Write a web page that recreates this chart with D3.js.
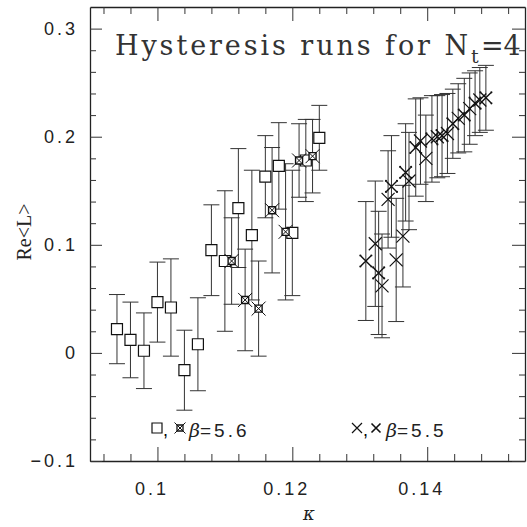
<!DOCTYPE html>
<html>
<head>
<meta charset="utf-8">
<script src="https://cdn.jsdelivr.net/npm/d3@7/dist/d3.min.js"></script>
<style>
body{margin:0;background:#fff}
svg{display:block}
.axis .domain{stroke:#222;stroke-width:1.3}
.axis line{stroke:#333;stroke-width:1}
.axis text{font-family:"Liberation Sans",sans-serif;font-size:18px;letter-spacing:3px;fill:#222}
</style>
</head>
<body>
<svg id="chart"></svg>
<script>
// beta=5.6, open squares
var sqKappa=[0.094,0.096,0.098,0.100,0.102,0.104,0.106,0.108,0.110,0.112,0.114,0.116,0.118,0.120,0.122,0.124]
var sqVal=[0.022,0.012,0.002,0.047,0.042,-0.016,0.008,0.095,0.085,0.134,0.109,0.163,0.173,0.111,0.178,0.199]
var sqErr=[0.032,0.035,0.035,0.037,0.045,0.037,0.043,0.042,0.065,0.055,0.060,0.038,0.040,0.058,0.038,0.030]

// beta=5.6, crossed squares
var csKappa=[0.111,0.113,0.115,0.117,0.119,0.121,0.123]
var csVal=[0.085,0.049,0.041,0.132,0.112,0.178,0.182]
var csErr=[0.040,0.047,0.044,0.058,0.063,0.034,0.034]

// beta=5.5, plain crosses
var xKappa=[0.1323,0.1333,0.1342,0.1354,0.1364,0.1373,0.1390,0.1398,0.1415,0.1430,0.1446,0.1463,0.1478]
var xVal=[0.101,0.062,0.142,0.086,0.108,0.159,0.196,0.180,0.200,0.203,0.217,0.226,0.234]
var xErr=[0.058,0.048,0.045,0.057,0.047,0.045,0.040,0.040,0.038,0.037,0.032,0.033,0.030]

// beta=5.5, dotted crosses
var dKappa=[0.1309,0.1328,0.1347,0.1368,0.1383,0.1407,0.1422,0.1438,0.1455,0.1471,0.1487]
var dVal=[0.085,0.074,0.154,0.167,0.190,0.198,0.201,0.212,0.220,0.231,0.236]
var dErr=[0.055,0.057,0.047,0.045,0.045,0.040,0.038,0.032,0.034,0.030,0.030]

var xMajor=[0.1,0.12,0.14]
var yMajor=[-0.1,0,0.1,0.2,0.3]

var width=527, height=527
var margins={top:7, bottom:66, left:90, right:2}

var svg=d3.select("#chart")
    .attr("width",width)
    .attr("height",height)

var x=d3.scaleLinear().domain([0.09,0.1545]).range([margins.left,width-margins.right])
var y=d3.scaleLinear().domain([-0.1,0.32]).range([height-margins.bottom,margins.top])

var xMinor=d3.range(0.092,0.1545,0.004).map(function(v){return +v.toFixed(3)})
    .filter(function(v){return xMajor.indexOf(v)<0})
var yMinor=d3.range(-0.08,0.32,0.02).map(function(v){return +v.toFixed(2)})
    .filter(function(v){return yMajor.indexOf(v)<0})

var fmt=function(d){
    if(d===0) return "0"
    return (d<0?"\u2212":"")+Math.abs(d)
}

// axes, ticks pointing inward on all four sides
var axisB=svg.append("g").attr("class","axis")
    .attr("transform","translate(0,"+y.range()[0]+")")
axisB.call(d3.axisBottom(x).tickValues(xMinor).tickSize(-7).tickSizeOuter(0).tickFormat(""))
axisB.append("g").call(d3.axisBottom(x).tickValues(xMajor).tickSize(-14).tickSizeOuter(0).tickPadding(21).tickFormat(fmt))
    .call(function(g){g.select(".domain").remove()})
    .selectAll("text").attr("dx","-6")

var axisT=svg.append("g").attr("class","axis")
    .attr("transform","translate(0,"+y.range()[1]+")")
axisT.call(d3.axisTop(x).tickValues(xMinor).tickSize(-7).tickSizeOuter(0).tickFormat(""))
axisT.append("g").call(d3.axisTop(x).tickValues(xMajor).tickSize(-14).tickSizeOuter(0).tickFormat(""))
    .call(function(g){g.select(".domain").remove()})

var axisL=svg.append("g").attr("class","axis")
    .attr("transform","translate("+x.range()[0]+",0)")
axisL.call(d3.axisLeft(y).tickValues(yMinor).tickSize(-6).tickSizeOuter(0).tickFormat(""))
axisL.append("g").call(d3.axisLeft(y).tickValues(yMajor).tickSize(-12).tickSizeOuter(0).tickPadding(12).tickFormat(fmt))
    .call(function(g){g.select(".domain").remove()})

var axisR=svg.append("g").attr("class","axis")
    .attr("transform","translate("+x.range()[1]+",0)")
axisR.call(d3.axisRight(y).tickValues(yMinor).tickSize(-6).tickSizeOuter(0).tickFormat(""))
axisR.append("g").call(d3.axisRight(y).tickValues(yMajor).tickSize(-13).tickSizeOuter(0).tickFormat(""))
    .call(function(g){g.select(".domain").remove()})

// build point tables
var zip=function(ks,vs,es){
    return ks.map(function(k,i){return {k:k,v:vs[i],e:es[i]}})
}
var squares=zip(sqKappa,sqVal,sqErr)
var crossSq=zip(csKappa,csVal,csErr)
var crosses=zip(xKappa,xVal,xErr)
var dotted=zip(dKappa,dVal,dErr)
var all=squares.concat(crossSq,crosses,dotted)

// error bars
var bars=svg.append("g").attr("stroke","#333").attr("stroke-width",1).attr("fill","none")
bars.selectAll("path")
    .data(all)
    .enter()
    .append("path")
    .attr("d",function(d){
        var px=x(d.k), y0=y(d.v-d.e), y1=y(d.v+d.e)
        return "M"+px+","+y0+"V"+y1+
            "M"+(px-8)+","+y1+"H"+(px+8)+
            "M"+(px-8)+","+y0+"H"+(px+8)
    })

// markers
var sqPath="M-5.5,-5.5H5.5V5.5H-5.5Z"
var csBox="M-3.5,-3.5H3.5V3.5H-3.5Z"
var csDiag="M-7,-7L7,7M-7,7L7,-7"
var xPath="M-6.5,-6.5L6.5,6.5M-6.5,6.5L6.5,-6.5"
var dxPath="M-5,-5L5,5M-5,5L5,-5"

var place=function(d){return "translate("+x(d.k)+","+y(d.v)+")"}

svg.append("g").selectAll("path")
    .data(squares)
    .enter()
    .append("path")
    .attr("transform",place)
    .attr("d",sqPath)
    .attr("fill","#fff")
    .attr("stroke","#111")
    .attr("stroke-width",1.2)

var cs=svg.append("g").selectAll("g")
    .data(crossSq)
    .enter()
    .append("g")
    .attr("transform",place)
cs.append("path").attr("d",csBox).attr("fill","#fff").attr("stroke","#111").attr("stroke-width",1.4)
cs.append("path").attr("d",csDiag).attr("stroke","#111").attr("stroke-width",1)

svg.append("g").selectAll("path")
    .data(crosses)
    .enter()
    .append("path")
    .attr("transform",place)
    .attr("d",xPath)
    .attr("stroke","#111")
    .attr("stroke-width",1.2)

var dx=svg.append("g").selectAll("g")
    .data(dotted)
    .enter()
    .append("g")
    .attr("transform",place)
dx.append("path").attr("d",dxPath).attr("stroke","#111").attr("stroke-width",1.4)
dx.selectAll("circle")
    .data([[-5.5,-5.5],[5.5,-5.5],[-5.5,5.5],[5.5,5.5]])
    .enter()
    .append("circle")
    .attr("cx",function(p){return p[0]})
    .attr("cy",function(p){return p[1]})
    .attr("r",1.1)
    .attr("fill","#111")

// title
var title=svg.append("text")
    .attr("y",55)
    .attr("font-family","DejaVu Serif, serif")
    .attr("font-size",27)
    .attr("fill","#333")
title.append("tspan").attr("x",115).attr("textLength",353).attr("lengthAdjust","spacing")
    .text("Hysteresis runs for N")
title.append("tspan").attr("x",471).attr("y",63).attr("font-size",19).text("t")
title.append("tspan").attr("x",481).attr("y",55).text("=4")

// axis labels
svg.append("text")
    .attr("x",309).attr("y",520)
    .attr("text-anchor","middle")
    .attr("font-family","DejaVu Serif, serif")
    .attr("font-style","italic")
    .attr("font-size",18)
    .attr("fill","#222")
    .text("\u03ba")

svg.append("text")
    .attr("transform","translate(31,232) rotate(-90)")
    .attr("text-anchor","middle")
    .attr("font-family","Liberation Serif, serif")
    .attr("font-size",20)
    .attr("fill","#222")
    .text("Re<L>")

// legend
var leg=svg.append("g")
leg.append("path").attr("transform","translate(157,428)").attr("d","M-5,-5H5V5H-5Z")
    .attr("fill","none").attr("stroke","#111").attr("stroke-width",1.2)
leg.append("text").attr("x",163).attr("y",436).attr("font-size",18).attr("font-family","Liberation Sans, sans-serif").text(",")
var lcs=leg.append("g").attr("transform","translate(180,428)")
lcs.append("path").attr("d","M-3,-3H3V3H-3Z").attr("fill","none").attr("stroke","#111").attr("stroke-width",1.3)
lcs.append("path").attr("d","M-5.5,-5.5L5.5,5.5M-5.5,5.5L5.5,-5.5").attr("stroke","#111").attr("stroke-width",1)
var t1=leg.append("text").attr("x",189).attr("y",437).attr("font-size",19).attr("fill","#222")
t1.append("tspan").attr("font-family","DejaVu Serif, serif").attr("font-style","italic").text("\u03b2")
t1.append("tspan").attr("font-family","Liberation Sans, sans-serif").attr("letter-spacing","3px").text("=5.6")

leg.append("path").attr("transform","translate(357,428)").attr("d","M-5,-5L5,5M-5,5L5,-5")
    .attr("stroke","#111").attr("stroke-width",1.2)
leg.append("text").attr("x",363).attr("y",436).attr("font-size",18).attr("font-family","Liberation Sans, sans-serif").text(",")
leg.append("path").attr("transform","translate(376,428)").attr("d","M-4.5,-4.5L4.5,4.5M-4.5,4.5L4.5,-4.5")
    .attr("stroke","#111").attr("stroke-width",1.6)
var t2=leg.append("text").attr("x",386).attr("y",437).attr("font-size",19).attr("fill","#222")
t2.append("tspan").attr("font-family","DejaVu Serif, serif").attr("font-style","italic").text("\u03b2")
t2.append("tspan").attr("font-family","Liberation Sans, sans-serif").attr("letter-spacing","3px").text("=5.5")
</script>
</body>
</html>
